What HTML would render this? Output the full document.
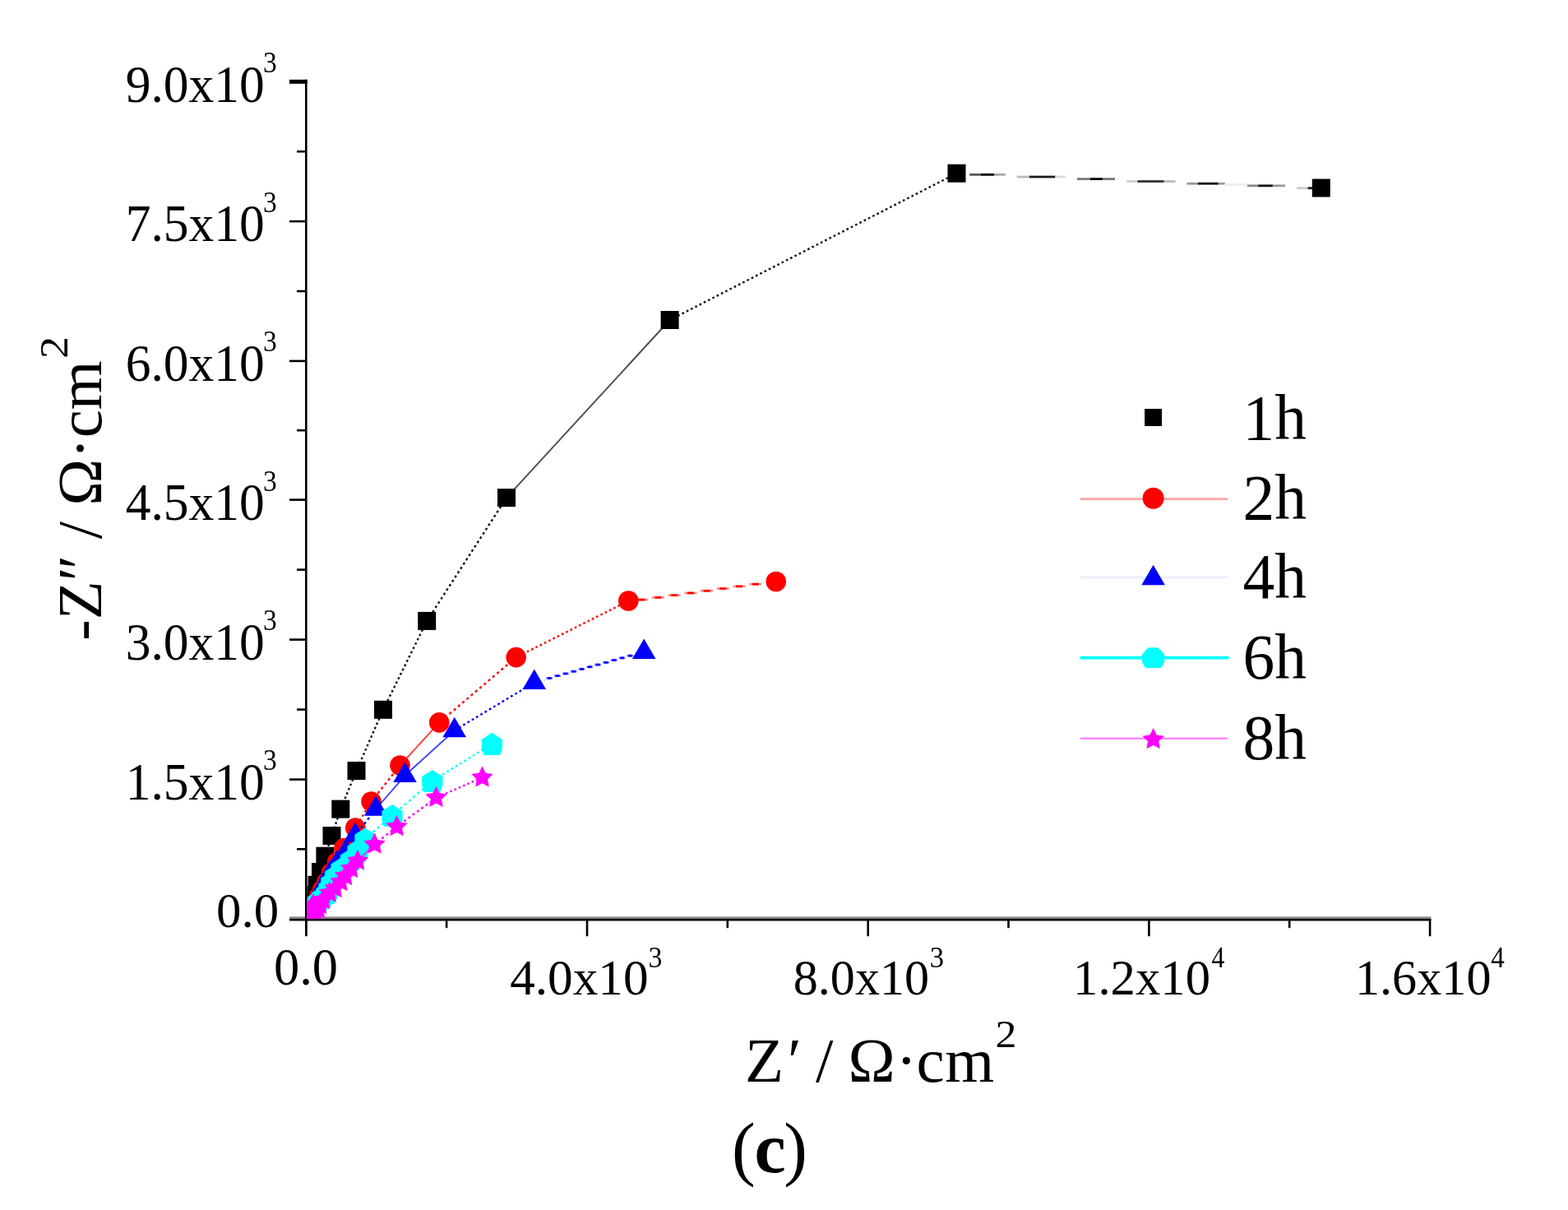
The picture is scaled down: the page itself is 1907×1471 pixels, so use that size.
<!DOCTYPE html><html><head><meta charset="utf-8"><title>Nyquist plot (c)</title>
<style>html,body{margin:0;padding:0;background:#fff;overflow:hidden;}svg{display:block;}text{font-family:"Liberation Serif","Times New Roman",serif;fill:#000;}</style></head><body>
<svg width="1907" height="1471" viewBox="0 0 1907 1471">
<rect width="1907" height="1471" fill="#fff"/>
<rect x="352" y="1114.4" width="1388.3999999999999" height="2.6" fill="#777" opacity="0.9"/>
<g stroke="#000" stroke-width="2.6" fill="none">
<line x1="372.3" y1="96.8" x2="372.3" y2="1138"/>
<line x1="352" y1="1118.2" x2="1740.3999999999999" y2="1118.2"/>
<rect x="352" y="96.8" width="21.6" height="5" fill="#000" stroke="none"/>
<line x1="361" y1="184.2" x2="372.3" y2="184.2"/>
<line x1="352" y1="269.1" x2="372.3" y2="269.1"/>
<line x1="361" y1="354.0" x2="372.3" y2="354.0"/>
<line x1="352" y1="438.9" x2="372.3" y2="438.9"/>
<line x1="361" y1="523.2" x2="372.3" y2="523.2"/>
<line x1="352" y1="607.6" x2="372.3" y2="607.6"/>
<line x1="361" y1="692.6" x2="372.3" y2="692.6"/>
<line x1="352" y1="777.6" x2="372.3" y2="777.6"/>
<line x1="361" y1="862.6" x2="372.3" y2="862.6"/>
<line x1="352" y1="947.6" x2="372.3" y2="947.6"/>
<line x1="361" y1="1032.3" x2="372.3" y2="1032.3"/>
<line x1="372.3" y1="1117.0" x2="372.3" y2="1138.2"/>
<line x1="543.1" y1="1117.0" x2="543.1" y2="1128.2"/>
<line x1="714.0" y1="1117.0" x2="714.0" y2="1138.2"/>
<line x1="884.8" y1="1117.0" x2="884.8" y2="1128.2"/>
<line x1="1055.7" y1="1117.0" x2="1055.7" y2="1138.2"/>
<line x1="1226.5" y1="1117.0" x2="1226.5" y2="1128.2"/>
<line x1="1397.4" y1="1117.0" x2="1397.4" y2="1138.2"/>
<line x1="1568.2" y1="1117.0" x2="1568.2" y2="1128.2"/>
<line x1="1739.1" y1="1117.0" x2="1739.1" y2="1138.2"/>
</g>
<defs><clipPath id="pa"><rect x="373.6" y="60" width="1500" height="1056.9"/></clipPath></defs>
<g clip-path="url(#pa)">
<line x1="1606.8" y1="228.5" x2="1163.5" y2="210.7" stroke="#000" stroke-width="1" stroke-dasharray="0 1000" stroke-dashoffset="0"/><line x1="1163.5" y1="210.7" x2="814.6" y2="389.0" stroke="#111" stroke-width="2.4" stroke-dasharray="2.66 3.25"/><line x1="814.6" y1="389.0" x2="616.0" y2="605.1" stroke="#111" stroke-width="1.9" stroke-opacity="0.75"/><line x1="616.0" y1="605.1" x2="519.2" y2="754.9" stroke="#111" stroke-width="2.4" stroke-dasharray="2.82 3.44"/><line x1="519.2" y1="754.9" x2="466.0" y2="862.8" stroke="#111" stroke-width="2.4" stroke-dasharray="2.64 3.23"/><line x1="466.0" y1="862.8" x2="433.5" y2="937.0" stroke="#111" stroke-width="2.4" stroke-dasharray="2.58 3.16"/><line x1="433.5" y1="937.0" x2="414.3" y2="983.6" stroke="#111" stroke-width="2.4" stroke-dasharray="2.56 3.13"/><line x1="414.3" y1="983.6" x2="403.5" y2="1016.0" stroke="#111" stroke-width="2.4" stroke-dasharray="2.50 3.05"/><line x1="403.5" y1="1016.0" x2="395.4" y2="1040.7" stroke="#111" stroke-width="2.4" stroke-dasharray="2.49 3.04"/><line x1="395.4" y1="1040.7" x2="390.0" y2="1060.0" stroke="#111" stroke-width="2.4" stroke-dasharray="2.46 3.00"/><line x1="390.0" y1="1060.0" x2="385.5" y2="1075.8" stroke="#111" stroke-width="2.4" stroke-dasharray="2.46 3.01"/><line x1="385.5" y1="1075.8" x2="381.5" y2="1088.0" stroke="#111" stroke-width="2.4" stroke-dasharray="2.49 3.04"/><line x1="381.5" y1="1088.0" x2="378.5" y2="1097.5" stroke="#111" stroke-width="2.4" stroke-dasharray="2.48 3.03"/><line x1="378.5" y1="1097.5" x2="376.5" y2="1104.5" stroke="#111" stroke-width="2.4" stroke-dasharray="2.46 3.01"/><line x1="376.5" y1="1104.5" x2="375.0" y2="1110.0" stroke="#111" stroke-width="2.4" stroke-dasharray="2.45 3.00"/><line x1="375.0" y1="1110.0" x2="374.0" y2="1114.0" stroke="#111" stroke-width="2.4" stroke-dasharray="2.44 2.98"/>
<rect x="1179.2" y="210.9" width="13.8" height="2.8" fill="#555"/><rect x="1193" y="210.9" width="16.5" height="2.8" fill="#000"/><rect x="1209.5" y="210.9" width="13.5" height="2.8" fill="#aaa"/><rect x="1236.7" y="213.6" width="15.3" height="2.8" fill="#bbb"/><rect x="1252" y="213.6" width="31.5" height="2.8" fill="#1a1a1a"/><rect x="1283.5" y="213.6" width="12.8" height="2.8" fill="#ddd"/><rect x="1310" y="216.2" width="16.0" height="2.8" fill="#777"/><rect x="1326" y="216.2" width="15.0" height="2.8" fill="#000"/><rect x="1341" y="216.2" width="15.0" height="2.8" fill="#777"/><rect x="1370.2" y="219.1" width="13.2" height="2.8" fill="#ccc"/><rect x="1383.4" y="219.1" width="32.3" height="2.8" fill="#333"/><rect x="1415.7" y="219.1" width="13.8" height="2.8" fill="#bbb"/><rect x="1443.6" y="221.8" width="13.2" height="2.8" fill="#999"/><rect x="1456.8" y="221.8" width="25.0" height="2.8" fill="#111"/><rect x="1481.8" y="221.8" width="7.9" height="2.8" fill="#999"/><rect x="1489.7" y="223.1" width="27.3" height="2.8" fill="#eee"/><rect x="1517" y="224.4" width="13.2" height="2.8" fill="#888"/><rect x="1530.2" y="224.4" width="17.7" height="2.8" fill="#111"/><rect x="1547.9" y="224.4" width="15.1" height="2.8" fill="#999"/><rect x="1577.2" y="227.3" width="13.3" height="2.8" fill="#ccc"/><rect x="1590.5" y="227.3" width="6.5" height="2.8" fill="#222"/>
<g fill="#000"><rect x="1595.8" y="217.5" width="22" height="22"/><rect x="1152.5" y="199.7" width="22" height="22"/><rect x="803.6" y="378.0" width="22" height="22"/><rect x="605.0" y="594.1" width="22" height="22"/><rect x="508.2" y="743.9" width="22" height="22"/><rect x="455.0" y="851.8" width="22" height="22"/><rect x="422.5" y="926.0" width="22" height="22"/><rect x="403.3" y="972.6" width="22" height="22"/><rect x="392.5" y="1005.0" width="22" height="22"/><rect x="384.4" y="1029.7" width="22" height="22"/><rect x="379.0" y="1049.0" width="22" height="22"/><rect x="374.5" y="1064.8" width="22" height="22"/><rect x="370.5" y="1077.0" width="22" height="22"/><rect x="367.5" y="1086.5" width="22" height="22"/><rect x="365.5" y="1093.5" width="22" height="22"/><rect x="364.0" y="1099.0" width="22" height="22"/><rect x="363.0" y="1103.0" width="22" height="22"/></g>
<line x1="943.8" y1="707.0" x2="764.3" y2="730.5" stroke="#f00" stroke-width="1" stroke-dasharray="0 1000" stroke-dashoffset="0"/><line x1="764.3" y1="730.5" x2="627.7" y2="799.1" stroke="#ff0000" stroke-width="2.4" stroke-dasharray="2.65 3.24"/><line x1="627.7" y1="799.1" x2="534.2" y2="878.4" stroke="#ff0000" stroke-width="2.4" stroke-dasharray="3.10 3.79"/><line x1="534.2" y1="878.4" x2="486.5" y2="930.5" stroke="#ff0000" stroke-width="1.9" stroke-opacity="0.75"/><line x1="486.5" y1="930.5" x2="451.5" y2="974.5" stroke="#ff0000" stroke-width="2.4" stroke-dasharray="3.02 3.70"/><line x1="451.5" y1="974.5" x2="432.2" y2="1006.5" stroke="#ff0000" stroke-width="2.4" stroke-dasharray="2.76 3.38"/><line x1="432.2" y1="1006.5" x2="418.5" y2="1031.0" stroke="#ff0000" stroke-width="2.4" stroke-dasharray="2.71 3.31"/><line x1="418.5" y1="1031.0" x2="410.0" y2="1048.0" stroke="#ff0000" stroke-width="2.4" stroke-dasharray="2.65 3.23"/><line x1="410.0" y1="1048.0" x2="403.0" y2="1061.0" stroke="#ff0000" stroke-width="2.4" stroke-dasharray="2.69 3.29"/><line x1="403.0" y1="1061.0" x2="397.0" y2="1073.0" stroke="#ff0000" stroke-width="2.4" stroke-dasharray="2.65 3.23"/><line x1="397.0" y1="1073.0" x2="392.0" y2="1082.0" stroke="#ff0000" stroke-width="2.4" stroke-dasharray="2.71 3.31"/><line x1="392.0" y1="1082.0" x2="388.0" y2="1090.0" stroke="#ff0000" stroke-width="2.4" stroke-dasharray="2.65 3.23"/><line x1="388.0" y1="1090.0" x2="385.0" y2="1096.5" stroke="#ff0000" stroke-width="2.4" stroke-dasharray="2.61 3.19"/><line x1="385.0" y1="1096.5" x2="382.5" y2="1102.0" stroke="#ff0000" stroke-width="2.4" stroke-dasharray="2.60 3.18"/><line x1="382.5" y1="1102.0" x2="380.5" y2="1106.5" stroke="#ff0000" stroke-width="2.4" stroke-dasharray="2.59 3.17"/><line x1="380.5" y1="1106.5" x2="379.0" y2="1110.0" stroke="#ff0000" stroke-width="2.4" stroke-dasharray="2.58 3.15"/><line x1="379.0" y1="1110.0" x2="377.5" y2="1113.5" stroke="#ff0000" stroke-width="2.4" stroke-dasharray="2.58 3.15"/>
<rect x="776.0" y="727.7" width="12.1" height="2.7" fill="#ff0000" fill-opacity="0.45"/><rect x="776.6" y="727.7" width="8.0" height="2.7" fill="#ff0000"/><rect x="792.9" y="725.0" width="15.0" height="2.7" fill="#ff0000" fill-opacity="0.45"/><rect x="796.4" y="725.0" width="8.0" height="2.7" fill="#ff0000"/><rect x="812.6" y="722.3" width="15.0" height="2.7" fill="#ff0000" fill-opacity="0.45"/><rect x="816.1" y="722.3" width="8.0" height="2.7" fill="#ff0000"/><rect x="832.4" y="719.6" width="15.0" height="2.7" fill="#ff0000" fill-opacity="0.45"/><rect x="835.9" y="719.6" width="8.0" height="2.7" fill="#ff0000"/><rect x="852.1" y="716.9" width="15.0" height="2.7" fill="#ff0000" fill-opacity="0.45"/><rect x="855.6" y="716.9" width="8.0" height="2.7" fill="#ff0000"/><rect x="871.8" y="714.2" width="15.0" height="2.7" fill="#ff0000" fill-opacity="0.45"/><rect x="875.3" y="714.2" width="8.0" height="2.7" fill="#ff0000"/><rect x="891.6" y="711.5" width="15.0" height="2.7" fill="#ff0000" fill-opacity="0.45"/><rect x="895.1" y="711.5" width="8.0" height="2.7" fill="#ff0000"/><rect x="911.3" y="708.8" width="15.0" height="2.7" fill="#ff0000" fill-opacity="0.45"/><rect x="914.8" y="708.8" width="8.0" height="2.7" fill="#ff0000"/>
<g fill="#ff0000"><circle cx="943.8" cy="707.0" r="12.3"/><circle cx="764.3" cy="730.5" r="12.3"/><circle cx="627.7" cy="799.1" r="12.3"/><circle cx="534.2" cy="878.4" r="12.3"/><circle cx="486.5" cy="930.5" r="12.3"/><circle cx="451.5" cy="974.5" r="12.3"/><circle cx="432.2" cy="1006.5" r="12.3"/><circle cx="418.5" cy="1031.0" r="12.3"/><circle cx="410.0" cy="1048.0" r="12.3"/><circle cx="403.0" cy="1061.0" r="12.3"/><circle cx="397.0" cy="1073.0" r="12.3"/><circle cx="392.0" cy="1082.0" r="12.3"/><circle cx="388.0" cy="1090.0" r="12.3"/><circle cx="385.0" cy="1096.5" r="12.3"/><circle cx="382.5" cy="1102.0" r="12.3"/><circle cx="380.5" cy="1106.5" r="12.3"/><circle cx="379.0" cy="1110.0" r="12.3"/><circle cx="377.5" cy="1113.5" r="12.3"/></g>
<line x1="783.2" y1="792.7" x2="649.8" y2="829.8" stroke="#00f" stroke-width="1" stroke-dasharray="0 1000" stroke-dashoffset="0"/><line x1="649.8" y1="829.8" x2="552.7" y2="888.0" stroke="#0000ff" stroke-width="2.4" stroke-dasharray="2.76 3.37"/><line x1="552.7" y1="888.0" x2="492.5" y2="942.8" stroke="#0000ff" stroke-width="1.9" stroke-opacity="0.75"/><line x1="492.5" y1="942.8" x2="457.2" y2="983.5" stroke="#0000ff" stroke-width="1.9" stroke-opacity="0.75"/><line x1="457.2" y1="983.5" x2="432.0" y2="1015.7" stroke="#0000ff" stroke-width="2.4" stroke-dasharray="3.01 3.67"/><line x1="432.0" y1="1015.7" x2="420.5" y2="1036.0" stroke="#0000ff" stroke-width="2.4" stroke-dasharray="2.72 3.32"/><line x1="420.5" y1="1036.0" x2="410.0" y2="1050.0" stroke="#0000ff" stroke-width="2.4" stroke-dasharray="2.96 3.62"/><line x1="410.0" y1="1050.0" x2="401.5" y2="1062.0" stroke="#0000ff" stroke-width="2.4" stroke-dasharray="2.90 3.55"/><line x1="401.5" y1="1062.0" x2="396.0" y2="1074.0" stroke="#0000ff" stroke-width="2.4" stroke-dasharray="2.60 3.18"/><line x1="396.0" y1="1074.0" x2="389.5" y2="1084.0" stroke="#0000ff" stroke-width="2.4" stroke-dasharray="2.82 3.45"/><line x1="389.5" y1="1084.0" x2="385.0" y2="1092.0" stroke="#0000ff" stroke-width="2.4" stroke-dasharray="2.72 3.32"/><line x1="385.0" y1="1092.0" x2="381.5" y2="1099.0" stroke="#0000ff" stroke-width="2.4" stroke-dasharray="2.65 3.23"/><line x1="381.5" y1="1099.0" x2="379.0" y2="1105.0" stroke="#0000ff" stroke-width="2.4" stroke-dasharray="2.56 3.13"/><line x1="379.0" y1="1105.0" x2="377.0" y2="1110.0" stroke="#0000ff" stroke-width="2.4" stroke-dasharray="2.55 3.12"/><line x1="377.0" y1="1110.0" x2="375.5" y2="1114.0" stroke="#0000ff" stroke-width="2.4" stroke-dasharray="2.53 3.09"/>
<rect x="662.0" y="825.8" width="0.4" height="2.7" fill="#0000ff" fill-opacity="0.45"/><rect x="664.2" y="823.1" width="8.0" height="2.7" fill="#0000ff" fill-opacity="0.45"/><rect x="665.7" y="823.1" width="5.0" height="2.7" fill="#0000ff"/><rect x="674.0" y="820.3" width="8.0" height="2.7" fill="#0000ff" fill-opacity="0.45"/><rect x="675.5" y="820.3" width="5.0" height="2.7" fill="#0000ff"/><rect x="683.9" y="817.6" width="8.0" height="2.7" fill="#0000ff" fill-opacity="0.45"/><rect x="685.4" y="817.6" width="5.0" height="2.7" fill="#0000ff"/><rect x="693.7" y="814.9" width="8.0" height="2.7" fill="#0000ff" fill-opacity="0.45"/><rect x="695.2" y="814.9" width="5.0" height="2.7" fill="#0000ff"/><rect x="703.5" y="812.1" width="8.0" height="2.7" fill="#0000ff" fill-opacity="0.45"/><rect x="705.0" y="812.1" width="5.0" height="2.7" fill="#0000ff"/><rect x="713.3" y="809.4" width="8.0" height="2.7" fill="#0000ff" fill-opacity="0.45"/><rect x="714.8" y="809.4" width="5.0" height="2.7" fill="#0000ff"/><rect x="723.1" y="806.7" width="8.0" height="2.7" fill="#0000ff" fill-opacity="0.45"/><rect x="724.6" y="806.7" width="5.0" height="2.7" fill="#0000ff"/><rect x="733.0" y="804.0" width="8.0" height="2.7" fill="#0000ff" fill-opacity="0.45"/><rect x="734.5" y="804.0" width="5.0" height="2.7" fill="#0000ff"/><rect x="742.8" y="801.2" width="8.0" height="2.7" fill="#0000ff" fill-opacity="0.45"/><rect x="744.3" y="801.2" width="5.0" height="2.7" fill="#0000ff"/><rect x="752.6" y="798.5" width="8.0" height="2.7" fill="#0000ff" fill-opacity="0.45"/><rect x="754.1" y="798.5" width="5.0" height="2.7" fill="#0000ff"/><rect x="762.4" y="795.8" width="8.0" height="2.7" fill="#0000ff" fill-opacity="0.45"/><rect x="763.9" y="795.8" width="5.0" height="2.7" fill="#0000ff"/>
<g fill="#0000ff"><path d="M783.2 776.4L797.5 800.9L768.9 800.9Z"/><path d="M649.8 813.5L664.1 838.0L635.5 838.0Z"/><path d="M552.7 871.7L567.0 896.2L538.4 896.2Z"/><path d="M492.5 926.5L506.8 951.0L478.2 951.0Z"/><path d="M457.2 967.2L471.5 991.7L442.9 991.7Z"/><path d="M432.0 999.4L446.3 1023.9L417.7 1023.9Z"/><path d="M420.5 1019.7L434.8 1044.2L406.2 1044.2Z"/><path d="M410.0 1033.7L424.3 1058.2L395.7 1058.2Z"/><path d="M401.5 1045.7L415.8 1070.2L387.2 1070.2Z"/><path d="M396.0 1057.7L410.3 1082.2L381.7 1082.2Z"/><path d="M389.5 1067.7L403.8 1092.2L375.2 1092.2Z"/><path d="M385.0 1075.7L399.3 1100.2L370.7 1100.2Z"/><path d="M381.5 1082.7L395.8 1107.2L367.2 1107.2Z"/><path d="M379.0 1088.7L393.3 1113.2L364.7 1113.2Z"/><path d="M377.0 1093.7L391.3 1118.2L362.7 1118.2Z"/><path d="M375.5 1097.7L389.8 1122.2L361.2 1122.2Z"/></g>
<line x1="598.4" y1="904.4" x2="525.8" y2="949.5" stroke="#00ffff" stroke-width="2.4" stroke-dasharray="2.79 3.41"/><line x1="525.8" y1="949.5" x2="477.0" y2="991.5" stroke="#00ffff" stroke-width="2.4" stroke-dasharray="3.12 3.82"/><line x1="477.0" y1="991.5" x2="444.0" y2="1020.0" stroke="#00ffff" stroke-width="2.4" stroke-dasharray="3.13 3.82"/><line x1="444.0" y1="1020.0" x2="435.0" y2="1034.0" stroke="#00ffff" stroke-width="2.4" stroke-dasharray="2.81 3.44"/><line x1="435.0" y1="1034.0" x2="426.5" y2="1045.0" stroke="#00ffff" stroke-width="2.4" stroke-dasharray="2.99 3.66"/><line x1="426.5" y1="1045.0" x2="415.0" y2="1056.0" stroke="#00ffff" stroke-width="1.9" stroke-opacity="0.75"/><line x1="415.0" y1="1056.0" x2="407.5" y2="1065.0" stroke="#00ffff" stroke-width="2.4" stroke-dasharray="3.08 3.77"/><line x1="407.5" y1="1065.0" x2="402.8" y2="1073.0" stroke="#00ffff" stroke-width="2.4" stroke-dasharray="2.75 3.36"/><line x1="402.8" y1="1073.0" x2="400.0" y2="1080.0" stroke="#00ffff" stroke-width="2.4" stroke-dasharray="2.55 3.12"/><line x1="400.0" y1="1080.0" x2="397.0" y2="1085.5" stroke="#00ffff" stroke-width="2.4" stroke-dasharray="2.70 3.30"/><line x1="397.0" y1="1085.5" x2="391.5" y2="1091.0" stroke="#00ffff" stroke-width="1.9" stroke-opacity="0.75"/><line x1="391.5" y1="1091.0" x2="386.5" y2="1096.0" stroke="#00ffff" stroke-width="1.9" stroke-opacity="0.75"/><line x1="386.5" y1="1096.0" x2="382.0" y2="1101.0" stroke="#00ffff" stroke-width="1.9" stroke-opacity="0.75"/><line x1="382.0" y1="1101.0" x2="379.0" y2="1106.0" stroke="#00ffff" stroke-width="2.4" stroke-dasharray="2.76 3.37"/><line x1="379.0" y1="1106.0" x2="377.0" y2="1110.5" stroke="#00ffff" stroke-width="2.4" stroke-dasharray="2.59 3.17"/><line x1="377.0" y1="1110.5" x2="375.5" y2="1114.5" stroke="#00ffff" stroke-width="2.4" stroke-dasharray="2.53 3.09"/>
<g fill="#00ffff"><path d="M598.4 890.8L611.0 899.0L611.0 909.9L608.0 917.9L588.8 917.9L585.8 909.9L585.8 899.0Z"/><path d="M525.8 935.9L538.4 944.1L538.4 955.0L535.4 963.0L516.2 963.0L513.2 955.0L513.2 944.1Z"/><path d="M477.0 977.9L489.6 986.1L489.6 997.0L486.6 1005.0L467.4 1005.0L464.4 997.0L464.4 986.1Z"/><path d="M444.0 1006.4L456.6 1014.6L456.6 1025.5L453.6 1033.5L434.4 1033.5L431.4 1025.5L431.4 1014.6Z"/><path d="M435.0 1020.4L447.6 1028.6L447.6 1039.5L444.6 1047.5L425.4 1047.5L422.4 1039.5L422.4 1028.6Z"/><path d="M426.5 1031.4L439.1 1039.6L439.1 1050.5L436.1 1058.5L416.9 1058.5L413.9 1050.5L413.9 1039.6Z"/><path d="M415.0 1042.4L427.6 1050.6L427.6 1061.5L424.6 1069.5L405.4 1069.5L402.4 1061.5L402.4 1050.6Z"/><path d="M407.5 1051.4L420.1 1059.6L420.1 1070.5L417.1 1078.5L397.9 1078.5L394.9 1070.5L394.9 1059.6Z"/><path d="M402.8 1059.4L415.4 1067.6L415.4 1078.5L412.4 1086.5L393.2 1086.5L390.2 1078.5L390.2 1067.6Z"/><path d="M400.0 1066.4L412.6 1074.6L412.6 1085.5L409.6 1093.5L390.4 1093.5L387.4 1085.5L387.4 1074.6Z"/><path d="M397.0 1071.9L409.6 1080.1L409.6 1091.0L406.6 1099.0L387.4 1099.0L384.4 1091.0L384.4 1080.1Z"/><path d="M391.5 1077.4L404.1 1085.6L404.1 1096.5L401.1 1104.5L381.9 1104.5L378.9 1096.5L378.9 1085.6Z"/><path d="M386.5 1082.4L399.1 1090.6L399.1 1101.5L396.1 1109.5L376.9 1109.5L373.9 1101.5L373.9 1090.6Z"/><path d="M382.0 1087.4L394.6 1095.6L394.6 1106.5L391.6 1114.5L372.4 1114.5L369.4 1106.5L369.4 1095.6Z"/><path d="M379.0 1092.4L391.6 1100.6L391.6 1111.5L388.6 1119.5L369.4 1119.5L366.4 1111.5L366.4 1100.6Z"/><path d="M377.0 1096.9L389.6 1105.1L389.6 1116.0L386.6 1124.0L367.4 1124.0L364.4 1116.0L364.4 1105.1Z"/><path d="M375.5 1100.9L388.1 1109.1L388.1 1120.0L385.1 1128.0L365.9 1128.0L362.9 1120.0L362.9 1109.1Z"/></g>
<line x1="586.5" y1="945.3" x2="530.5" y2="969.7" stroke="#ff00ff" stroke-width="2.4" stroke-dasharray="2.58 3.16"/><line x1="530.5" y1="969.7" x2="482.5" y2="1005.0" stroke="#ff00ff" stroke-width="2.4" stroke-dasharray="2.94 3.59"/><line x1="482.5" y1="1005.0" x2="455.5" y2="1026.5" stroke="#ff00ff" stroke-width="2.4" stroke-dasharray="3.03 3.70"/><line x1="455.5" y1="1026.5" x2="435.0" y2="1046.5" stroke="#ff00ff" stroke-width="1.9" stroke-opacity="0.75"/><line x1="435.0" y1="1046.5" x2="427.0" y2="1056.0" stroke="#ff00ff" stroke-width="1.9" stroke-opacity="0.75"/><line x1="427.0" y1="1056.0" x2="420.0" y2="1065.0" stroke="#ff00ff" stroke-width="2.4" stroke-dasharray="3.00 3.67"/><line x1="420.0" y1="1065.0" x2="414.4" y2="1072.0" stroke="#ff00ff" stroke-width="2.4" stroke-dasharray="3.03 3.70"/><line x1="414.4" y1="1072.0" x2="407.6" y2="1080.0" stroke="#ff00ff" stroke-width="1.9" stroke-opacity="0.75"/><line x1="407.6" y1="1080.0" x2="400.8" y2="1085.5" stroke="#ff00ff" stroke-width="2.4" stroke-dasharray="3.04 3.72"/><line x1="400.8" y1="1085.5" x2="393.0" y2="1094.0" stroke="#ff00ff" stroke-width="1.9" stroke-opacity="0.75"/><line x1="393.0" y1="1094.0" x2="389.0" y2="1100.0" stroke="#ff00ff" stroke-width="2.4" stroke-dasharray="2.84 3.48"/><line x1="389.0" y1="1100.0" x2="386.8" y2="1105.0" stroke="#ff00ff" stroke-width="2.4" stroke-dasharray="2.59 3.16"/><line x1="386.8" y1="1105.0" x2="383.4" y2="1110.0" stroke="#ff00ff" stroke-width="2.4" stroke-dasharray="2.86 3.50"/><line x1="383.4" y1="1110.0" x2="381.7" y2="1114.0" stroke="#ff00ff" stroke-width="2.4" stroke-dasharray="2.57 3.14"/><line x1="381.7" y1="1114.0" x2="381.0" y2="1100.0" stroke="#ff00ff" stroke-width="2.4" stroke-dasharray="2.37 2.90"/><line x1="381.0" y1="1100.0" x2="378.5" y2="1104.0" stroke="#ff00ff" stroke-width="2.4" stroke-dasharray="2.79 3.41"/><line x1="378.5" y1="1104.0" x2="377.0" y2="1108.0" stroke="#ff00ff" stroke-width="2.4" stroke-dasharray="2.53 3.09"/><line x1="377.0" y1="1108.0" x2="376.0" y2="1112.0" stroke="#ff00ff" stroke-width="2.4" stroke-dasharray="2.44 2.98"/>
<g fill="#ff00ff"><path d="M586.5 931.4L590.6 939.7L599.7 941.0L593.1 947.4L594.7 956.5L586.5 952.2L578.3 956.5L579.9 947.4L573.3 941.0L582.4 939.7Z"/><path d="M530.5 955.8L534.6 964.1L543.7 965.4L537.1 971.8L538.7 980.9L530.5 976.6L522.3 980.9L523.9 971.8L517.3 965.4L526.4 964.1Z"/><path d="M482.5 991.1L486.6 999.4L495.7 1000.7L489.1 1007.1L490.7 1016.2L482.5 1011.9L474.3 1016.2L475.9 1007.1L469.3 1000.7L478.4 999.4Z"/><path d="M455.5 1012.6L459.6 1020.9L468.7 1022.2L462.1 1028.6L463.7 1037.7L455.5 1033.4L447.3 1037.7L448.9 1028.6L442.3 1022.2L451.4 1020.9Z"/><path d="M435.0 1032.6L439.1 1040.9L448.2 1042.2L441.6 1048.6L443.2 1057.7L435.0 1053.4L426.8 1057.7L428.4 1048.6L421.8 1042.2L430.9 1040.9Z"/><path d="M427.0 1042.1L431.1 1050.4L440.2 1051.7L433.6 1058.1L435.2 1067.2L427.0 1062.9L418.8 1067.2L420.4 1058.1L413.8 1051.7L422.9 1050.4Z"/><path d="M420.0 1051.1L424.1 1059.4L433.2 1060.7L426.6 1067.1L428.2 1076.2L420.0 1071.9L411.8 1076.2L413.4 1067.1L406.8 1060.7L415.9 1059.4Z"/><path d="M414.4 1058.1L418.5 1066.4L427.6 1067.7L421.0 1074.1L422.6 1083.2L414.4 1078.9L406.2 1083.2L407.8 1074.1L401.2 1067.7L410.3 1066.4Z"/><path d="M407.6 1066.1L411.7 1074.4L420.8 1075.7L414.2 1082.1L415.8 1091.2L407.6 1086.9L399.4 1091.2L401.0 1082.1L394.4 1075.7L403.5 1074.4Z"/><path d="M400.8 1071.6L404.9 1079.9L414.0 1081.2L407.4 1087.6L409.0 1096.7L400.8 1092.4L392.6 1096.7L394.2 1087.6L387.6 1081.2L396.7 1079.9Z"/><path d="M393.0 1080.1L397.1 1088.4L406.2 1089.7L399.6 1096.1L401.2 1105.2L393.0 1100.9L384.8 1105.2L386.4 1096.1L379.8 1089.7L388.9 1088.4Z"/><path d="M389.0 1086.1L393.1 1094.4L402.2 1095.7L395.6 1102.1L397.2 1111.2L389.0 1106.9L380.8 1111.2L382.4 1102.1L375.8 1095.7L384.9 1094.4Z"/><path d="M386.8 1091.1L390.9 1099.4L400.0 1100.7L393.4 1107.1L395.0 1116.2L386.8 1111.9L378.6 1116.2L380.2 1107.1L373.6 1100.7L382.7 1099.4Z"/><path d="M383.4 1096.1L387.5 1104.4L396.6 1105.7L390.0 1112.1L391.6 1121.2L383.4 1116.9L375.2 1121.2L376.8 1112.1L370.2 1105.7L379.3 1104.4Z"/><path d="M381.7 1100.1L385.8 1108.4L394.9 1109.7L388.3 1116.1L389.9 1125.2L381.7 1120.9L373.5 1125.2L375.1 1116.1L368.5 1109.7L377.6 1108.4Z"/><path d="M381.0 1086.1L385.1 1094.4L394.2 1095.7L387.6 1102.1L389.2 1111.2L381.0 1106.9L372.8 1111.2L374.4 1102.1L367.8 1095.7L376.9 1094.4Z"/><path d="M378.5 1090.1L382.6 1098.4L391.7 1099.7L385.1 1106.1L386.7 1115.2L378.5 1110.9L370.3 1115.2L371.9 1106.1L365.3 1099.7L374.4 1098.4Z"/><path d="M377.0 1094.1L381.1 1102.4L390.2 1103.7L383.6 1110.1L385.2 1119.2L377.0 1114.9L368.8 1119.2L370.4 1110.1L363.8 1103.7L372.9 1102.4Z"/><path d="M376.0 1098.1L380.1 1106.4L389.2 1107.7L382.6 1114.1L384.2 1123.2L376.0 1118.9L367.8 1123.2L369.4 1114.1L362.8 1107.7L371.9 1106.4Z"/></g>
</g>
<text x="152.70" y="123.50" font-size="63.5" textLength="169.04" lengthAdjust="spacingAndGlyphs">9.0x10</text>
<text x="320.10" y="88.00" font-size="36.2" textLength="16.70" lengthAdjust="spacingAndGlyphs">3</text>
<text x="152.70" y="293.10" font-size="63.5" textLength="169.04" lengthAdjust="spacingAndGlyphs">7.5x10</text>
<text x="320.10" y="257.60" font-size="36.2" textLength="16.70" lengthAdjust="spacingAndGlyphs">3</text>
<text x="152.70" y="462.70" font-size="63.5" textLength="169.04" lengthAdjust="spacingAndGlyphs">6.0x10</text>
<text x="320.10" y="427.20" font-size="36.2" textLength="16.70" lengthAdjust="spacingAndGlyphs">3</text>
<text x="152.70" y="632.30" font-size="63.5" textLength="169.04" lengthAdjust="spacingAndGlyphs">4.5x10</text>
<text x="320.10" y="596.80" font-size="36.2" textLength="16.70" lengthAdjust="spacingAndGlyphs">3</text>
<text x="152.70" y="801.90" font-size="63.5" textLength="169.04" lengthAdjust="spacingAndGlyphs">3.0x10</text>
<text x="320.10" y="766.40" font-size="36.2" textLength="16.70" lengthAdjust="spacingAndGlyphs">3</text>
<text x="152.70" y="971.50" font-size="63.5" textLength="169.04" lengthAdjust="spacingAndGlyphs">1.5x10</text>
<text x="320.10" y="936.00" font-size="36.2" textLength="16.70" lengthAdjust="spacingAndGlyphs">3</text>
<text x="262.98" y="1127.00" font-size="60.2" textLength="76.14" lengthAdjust="spacingAndGlyphs">0.0</text>
<text x="333.02" y="1197.30" font-size="63" textLength="78.06" lengthAdjust="spacingAndGlyphs">0.0</text>
<text x="620.20" y="1208.70" font-size="61.7" textLength="168.43" lengthAdjust="spacingAndGlyphs">4.0x10</text>
<text x="788.38" y="1176.30" font-size="36.6" textLength="16.95" lengthAdjust="spacingAndGlyphs">3</text>
<text x="964.81" y="1208.70" font-size="61.7" textLength="165.28" lengthAdjust="spacingAndGlyphs">8.0x10</text>
<text x="1130.64" y="1176.30" font-size="36.6" textLength="17.31" lengthAdjust="spacingAndGlyphs">3</text>
<text x="1305.06" y="1208.70" font-size="61.7" textLength="167.05" lengthAdjust="spacingAndGlyphs">1.2x10</text>
<text x="1473.38" y="1176.30" font-size="36.6" textLength="15.81" lengthAdjust="spacingAndGlyphs">4</text>
<text x="1647.91" y="1208.70" font-size="61.7" textLength="165.59" lengthAdjust="spacingAndGlyphs">1.6x10</text>
<text x="1813.35" y="1176.30" font-size="36.6" textLength="16.56" lengthAdjust="spacingAndGlyphs">4</text>
<text x="906.1 957.9 975 992 1020 1031.4 1089.4 1114.6 1149.3" y="1315" font-size="77">Z′ / Ω·cm</text>
<text x="1210.52" y="1273.40" font-size="47" textLength="25.94" lengthAdjust="spacingAndGlyphs">2</text>
<g transform="translate(123.3 776) rotate(-90)">
<text x="-2.85" y="0.00" font-size="77" textLength="340.24" lengthAdjust="spacingAndGlyphs">-Z″ / Ω·cm</text>
<text x="339.92" y="-41.70" font-size="48" textLength="27.07" lengthAdjust="spacingAndGlyphs">2</text>
</g>
<line x1="1314" y1="606.6" x2="1493" y2="606.6" stroke="#ffa3a3" stroke-width="2.9"/>
<line x1="1314" y1="701.9" x2="1493" y2="701.9" stroke="#ededff" stroke-width="2.6"/>
<line x1="1315" y1="799.6" x2="1493" y2="799.6" stroke="#00ffff" stroke-width="3.7" stroke-linecap="round"/>
<line x1="1314" y1="897.7" x2="1493" y2="897.7" stroke="#ff88ff" stroke-width="2.6"/>
<g fill="#000"><rect x="1392.1" y="497.0" width="21" height="21"/></g>
<g fill="#ff0000"><circle cx="1402.6" cy="605.7" r="13"/></g>
<g fill="#0000ff"><path d="M1402.6 686.7L1416.9 711.2L1388.3 711.2Z"/></g>
<path fill="#00ffff" d="M1397.1 787.2L1407.6 787.2L1412.1 790.6L1414.1 793.4L1416.2 795.8L1416.2 804.7L1413.6 810.0L1411.2 812.1L1394.0 812.1L1391.6 810.0L1389.0 804.7L1389.0 795.8L1391.1 793.4L1393.1 790.6Z"/>
<g fill="#ff00ff"><path d="M1402.6 885.1L1406.7 893.4L1415.8 894.7L1409.2 901.1L1410.8 910.2L1402.6 905.9L1394.4 910.2L1396.0 901.1L1389.4 894.7L1398.5 893.4Z"/></g>
<text x="1511.5" y="534.2" font-size="77.5">1h</text>
<text x="1511.5" y="630.7" font-size="77.5">2h</text>
<text x="1511.5" y="726.6" font-size="77.5">4h</text>
<text x="1511.5" y="824.6" font-size="77.5">6h</text>
<text x="1511.5" y="922.6" font-size="77.5">8h</text>
<text y="1424.5" font-size="86"><tspan x="889.9">(</tspan><tspan x="917.4" font-weight="bold">c</tspan><tspan x="953.3">)</tspan></text>
</svg></body></html>
